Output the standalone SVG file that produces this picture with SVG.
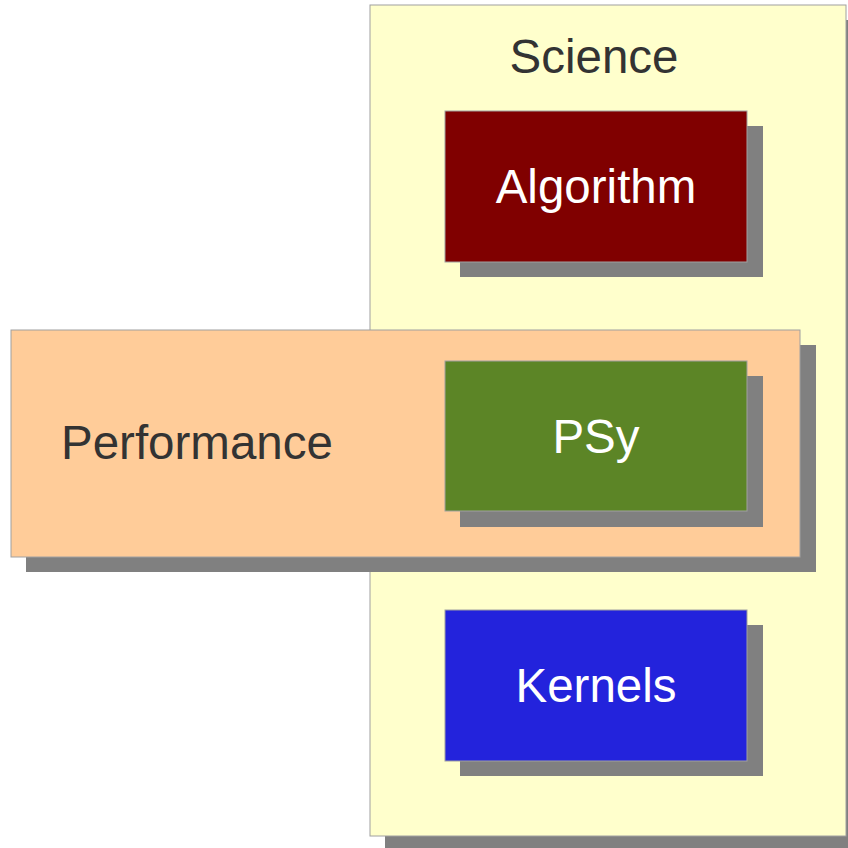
<svg xmlns="http://www.w3.org/2000/svg" width="848" height="848" viewBox="0 0 848 848">
<style>
.sh{fill:#808080}
.box{stroke:#a0a0a0;stroke-width:1}
.lbl{font-family:"Liberation Sans",Arial,sans-serif;font-size:47.5px}
.dark{fill:#333333}
.light{fill:#ffffff}
</style>
<rect width="848" height="848" fill="#ffffff"/>
<g id="science">
<rect class="sh" x="385" y="20" width="476" height="832"/>
<rect class="box" x="370" y="5" width="476" height="831" fill="#ffffcc"/>
<text class="lbl dark" x="594" y="73" text-anchor="middle">Science</text>
</g>
<g id="performance">
<rect class="sh" x="26" y="345" width="790" height="227"/>
<rect class="box" x="11" y="330" width="789" height="227" fill="#ffcc99"/>
<text class="lbl dark" x="61" y="459">Performance</text>
</g>
<g id="algorithm">
<rect class="sh" x="460" y="126" width="303" height="151"/>
<rect class="box" x="445" y="111" width="302" height="151" fill="#800000"/>
<text class="lbl light" x="596" y="203" text-anchor="middle">Algorithm</text>
</g>
<g id="psy">
<rect class="sh" x="460" y="376" width="303" height="151"/>
<rect class="box" x="445" y="361" width="302" height="150" fill="#5c8526"/>
<text class="lbl light" x="596" y="453" text-anchor="middle">PSy</text>
</g>
<g id="kernels">
<rect class="sh" x="460" y="625" width="303" height="151"/>
<rect class="box" x="445" y="610" width="302" height="151" fill="#2323dc"/>
<text class="lbl light" x="596" y="702" text-anchor="middle">Kernels</text>
</g>
<g id="connectors"></g>
</svg>
